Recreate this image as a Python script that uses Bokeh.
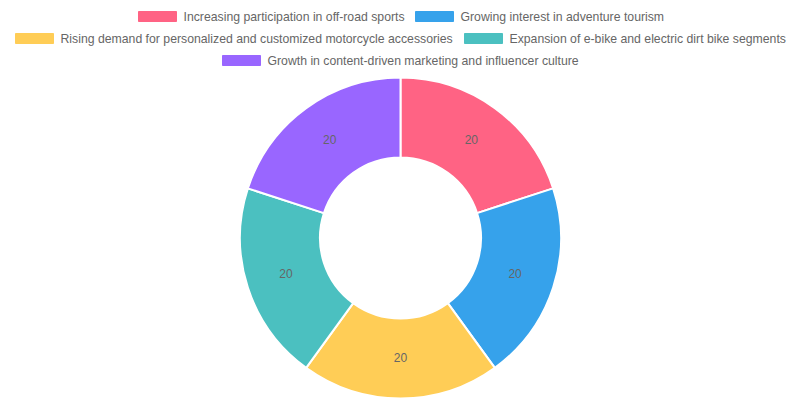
import numpy as np
from bokeh.plotting import figure
from bokeh.models import Range1d, ColumnDataSource
from bokeh.core.properties import value
from bokeh.embed import file_html
from bokeh.resources import INLINE

categories = [
    "Increasing participation in off-road sports",
    "Growing interest in adventure tourism",
    "Rising demand for personalized and customized motorcycle accessories",
    "Expansion of e-bike and electric dirt bike segments",
    "Growth in content-driven marketing and influencer culture",
]
values = [20, 20, 20, 20, 20]
colors = ["#ff6384", "#36a2eb", "#ffcd56", "#4bc0c0", "#9966ff"]

FONT = "Liberation Sans"
TXT = "#666666"
FS = "12.25px"

# reference-pixel coordinate system
W, H = 800, 400
p = figure(width=W, height=H, output_backend="svg", toolbar_location=None,
           x_range=Range1d(0, W), y_range=Range1d(0, H),
           min_border=0)
p.axis.visible = False
p.grid.visible = False
p.outline_line_color = None
p.background_fill_color = "white"
p.border_fill_color = "white"

cx, cy = 400, 400 - 237.5
r_out, r_in = 160.5, 80.5

vals = np.array(values, dtype=float)
frac = vals / vals.sum()
ce = np.cumsum(frac)
cs = ce - frac
start = np.pi / 2 - 2 * np.pi * cs
end = np.pi / 2 - 2 * np.pi * ce
mid = (start + end) / 2

src = ColumnDataSource(dict(start=start, end=end, color=colors))
p.annular_wedge(x=cx, y=cy, inner_radius=r_in, outer_radius=r_out,
                start_angle="start", end_angle="end", direction="clock",
                fill_color="color", line_color="white", line_width=2, source=src)

r_lab = (r_in + r_out) / 2
p.text(x=cx + r_lab * np.cos(mid), y=cy + 1.5 + r_lab * np.sin(mid),
       text=[str(v) for v in values], text_font=value(FONT), text_font_size="12px",
       text_color=TXT, text_align="center", text_baseline="middle")

# legend layout (rows of items): (box_left, row_center_y)
legend_pos = [(138, 16), (415, 16), (15, 38), (464, 38), (222, 60)]
bx = np.array([a for a, _ in legend_pos], dtype=float)
by = np.array([400 - b for _, b in legend_pos], dtype=float)
p.rect(x=bx + 19, y=by, width=38, height=10, fill_color=colors, line_color=colors,
       line_width=1)
p.text(x=bx + 45, y=by, text=categories, text_font=value(FONT), text_font_size=FS,
       text_color=TXT, text_align="left", text_baseline="middle")

open("out.html", "w").write(file_html(p, INLINE))
